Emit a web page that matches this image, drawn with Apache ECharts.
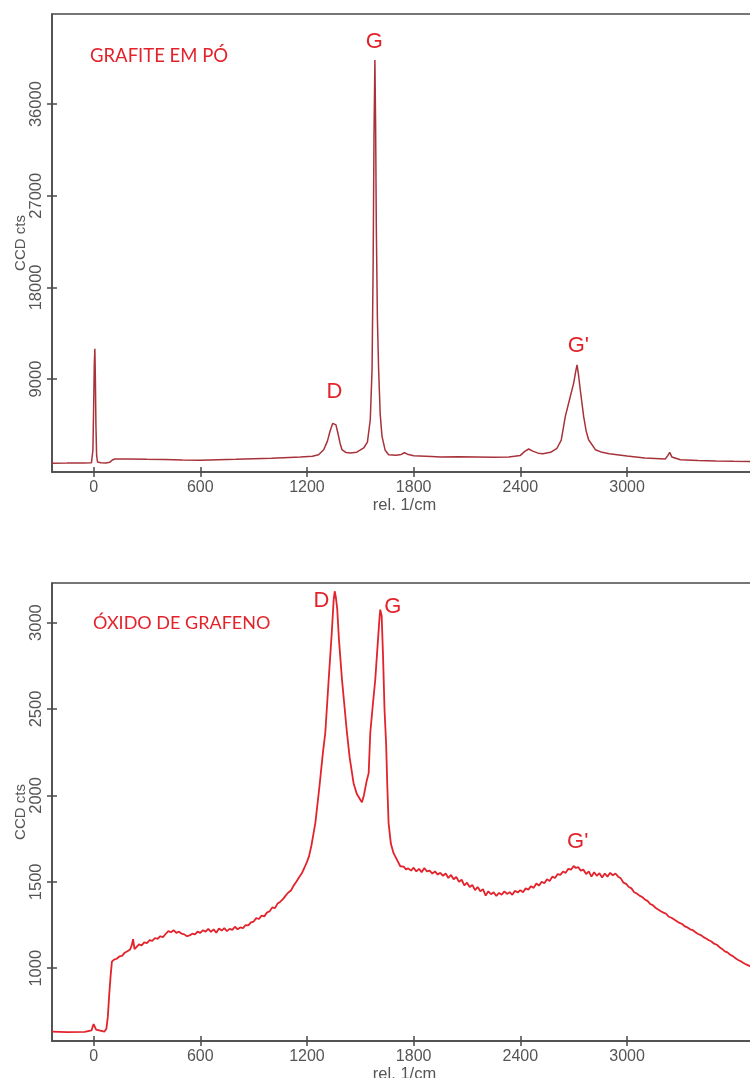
<!DOCTYPE html>
<html><head><meta charset="utf-8">
<script src="https://cdn.jsdelivr.net/npm/echarts@6/dist/echarts.min.js"></script>
<style>html,body{margin:0;padding:0;background:#fff}#c{width:750px;height:1078px}</style>
</head><body><div id="c"></div>
<script>
// Tick labels
const xTicks = [0, 600, 1200, 1800, 2400, 3000];
const grafiteYTicks = [9000, 18000, 27000, 36000];
const oxidoYTicks = [1000, 1500, 2000, 2500, 3000];

// Grafite em pó spectrum [rel. 1/cm, CCD cts]
const grafite = [
  [-234,740],[-150,750],[-60,765],[-12,790],[-4,2000],[0,6000],[4,10500],[7,11970],[10,9000],[13,4500],[17,1500],[22,850],
  [40,770],[70,760],[90,820],[105,1050],[120,1150],[200,1150],[300,1120],[400,1100],[500,1060],[600,1030],[700,1070],
  [800,1110],[900,1170],[1000,1230],[1100,1300],[1163,1345],[1230,1420],[1265,1560],[1294,2060],[1315,2900],[1330,3900],
  [1345,4650],[1354,4840],[1363,4500],[1375,3600],[1386,2700],[1397,2060],[1420,1780],[1444,1740],[1480,1820],[1519,2230],
  [1540,2800],[1556,5000],[1566,9900],[1572,20000],[1577,33000],[1582,40340],[1586,34000],[1590,24000],[1596,15000],
  [1603,9900],[1612,5500],[1622,3370],[1640,2000],[1659,1570],[1700,1520],[1730,1600],[1748,1760],[1765,1620],[1800,1470],
  [1900,1400],[1950,1345],[2050,1370],[2150,1350],[2250,1330],[2335,1350],[2400,1500],[2425,1900],[2447,2130],[2470,1920],
  [2500,1720],[2527,1670],[2570,1800],[2606,2200],[2630,3000],[2653,5330],[2681,7290],[2700,8600],[2712,9800],[2719,10400],
  [2728,9300],[2737,7950],[2756,5330],[2770,3900],[2784,3040],[2822,2060],[2860,1800],[2900,1670],[3000,1450],[3100,1250],
  [3215,1150],[3230,1500],[3240,1800],[3252,1350],[3300,1080],[3400,1000],[3500,960],[3600,930],[3731,900]
];

// Óxido de grafeno spectrum [rel. 1/cm, CCD cts]
const oxido = [
  [-234,633],[-150,630],[-50,632],[-12,640],[-4,665],[0,677],[6,668],[14,645],[25,635],[60,633],[72,650],[80,720],[88,850],
  [96,960],[103,1038],[115,1050],[130,1055],[145,1068],[160,1072],[175,1090],[190,1098],[205,1108],[215,1135],[222,1168],
  [230,1110],[240,1118],[255,1138],[270,1132],[285,1150],[300,1146],[315,1162],[330,1158],[345,1175],[360,1170],[375,1185],
  [390,1180],[405,1198],[420,1215],[435,1208],[450,1220],[465,1205],[480,1212],[495,1200],[510,1196],[525,1185],[540,1190],
  [555,1200],[570,1196],[585,1212],[600,1205],[615,1220],[630,1212],[645,1228],[660,1210],[675,1225],[690,1205],[705,1230],
  [720,1218],[735,1232],[750,1215],[765,1228],[780,1222],[795,1240],[810,1225],[825,1236],[840,1232],[855,1250],[870,1248],
  [885,1265],[900,1270],[915,1290],[930,1285],[945,1305],[960,1300],[975,1322],[990,1330],[1005,1352],[1020,1348],[1035,1375],
  [1050,1385],[1065,1400],[1080,1420],[1095,1438],[1110,1450],[1125,1478],[1140,1500],[1155,1525],[1170,1548],[1185,1580],
  [1200,1615],[1212,1650],[1225,1710],[1237,1780],[1247,1840],[1270,2050],[1290,2250],[1303,2361],[1322,2669],[1340,2950],
  [1350,3130],[1356,3181],[1362,3150],[1370,3080],[1380,2900],[1397,2669],[1425,2361],[1440,2220],[1462,2071],[1480,2010],
  [1500,1975],[1509,1960],[1520,2000],[1535,2080],[1547,2129],[1556,2361],[1570,2520],[1584,2669],[1598,2880],[1606,3000],
  [1612,3075],[1620,3040],[1628,2800],[1636,2500],[1645,2300],[1652,2050],[1659,1840],[1672,1720],[1687,1666],[1710,1620],
  [1725,1590],[1744,1588],[1757,1572],[1770,1578],[1785,1565],[1800,1582],[1815,1560],[1830,1575],[1845,1556],[1860,1580],
  [1875,1560],[1890,1565],[1905,1548],[1920,1560],[1935,1542],[1950,1552],[1965,1535],[1980,1548],[1995,1522],[2010,1540],
  [2025,1515],[2040,1528],[2055,1500],[2070,1512],[2085,1480],[2100,1495],[2115,1470],[2130,1482],[2145,1452],[2160,1470],
  [2175,1445],[2190,1458],[2205,1420],[2220,1445],[2235,1428],[2250,1440],[2265,1418],[2280,1436],[2295,1425],[2310,1445],
  [2325,1430],[2340,1440],[2355,1425],[2370,1448],[2385,1438],[2400,1452],[2415,1440],[2430,1462],[2445,1455],[2460,1475],
  [2475,1465],[2490,1490],[2505,1478],[2520,1500],[2535,1492],[2550,1515],[2565,1505],[2580,1530],[2595,1522],[2610,1545],
  [2625,1540],[2640,1560],[2655,1552],[2670,1575],[2685,1570],[2700,1592],[2712,1580],[2725,1585],[2740,1565],[2755,1570],
  [2770,1545],[2785,1560],[2800,1530],[2815,1555],[2830,1535],[2845,1550],[2860,1525],[2875,1548],[2890,1530],[2905,1552],
  [2920,1538],[2935,1548],[2950,1530],[2965,1520],[2980,1495],[2995,1488],[3010,1470],[3025,1462],[3040,1440],[3055,1432],
  [3070,1420],[3085,1412],[3100,1398],[3115,1390],[3130,1372],[3145,1365],[3160,1350],[3175,1340],[3190,1330],[3205,1322],
  [3220,1315],[3235,1298],[3250,1292],[3265,1282],[3280,1272],[3295,1262],[3310,1256],[3325,1242],[3340,1236],[3355,1225],
  [3370,1220],[3385,1208],[3400,1198],[3415,1192],[3430,1180],[3445,1172],[3460,1162],[3475,1155],[3490,1142],[3505,1136],
  [3520,1122],[3535,1112],[3550,1098],[3565,1092],[3580,1078],[3595,1070],[3610,1058],[3625,1048],[3640,1040],[3655,1030],
  [3670,1022],[3685,1015],[3700,1008],[3715,1002],[3731,995]
];

// Peak annotations [x, y, text]
const grafitePeaks = [[1579,42060,'G'],[1354,7750,'D'],[2726,12220,"G'"]];
const oxidoPeaks = [[1281,3127,'D'],[1683,3089,'G'],[2723,1728,"G'"]];

const titles = ['GRAFITE EM PÓ', 'ÓXIDO DE GRAFENO'];
const xName = 'rel. 1/cm';
const yName = 'CCD cts';

const axisColor = '#4a4a4a';
const labelColor = '#555';
const red = '#e3232b';
const plain = v => String(v);

function xAx(gi, inner) {
  return {
    type: 'value', gridIndex: gi, position: 'bottom', min: -234, max: 3731,
    axisLine: { show: !inner, onZero: false, lineStyle: { color: axisColor, width: 1.5 } },
    axisTick: { show: true, inside: inner, length: 5, customValues: xTicks, lineStyle: { color: axisColor, width: 1.5 } },
    axisLabel: { show: !inner, customValues: xTicks, formatter: plain, margin: 8, color: labelColor, fontFamily: 'Liberation Sans', fontSize: 16 },
    splitLine: { show: false },
    name: inner ? '' : xName, nameLocation: 'middle', nameGap: 25,
    nameTextStyle: { color: labelColor, fontFamily: 'Liberation Sans', fontSize: 16.5 }
  };
}
function yAx(gi, inner, min, max, ticks) {
  return {
    type: 'value', gridIndex: gi, position: 'left', min: min, max: max,
    axisLine: { show: !inner, onZero: false, lineStyle: { color: axisColor, width: 1.5 } },
    axisTick: { show: true, inside: inner, length: 5, customValues: ticks, lineStyle: { color: axisColor, width: 1.5 } },
    axisLabel: { show: !inner, customValues: ticks, formatter: plain, rotate: 90, margin: 7, color: labelColor, fontFamily: 'Liberation Sans', fontSize: 16.5 },
    splitLine: { show: false },
    name: inner ? '' : yName, nameLocation: 'middle', nameGap: 24, nameRotate: 90, nameMoveOverlap: false,
    nameTextStyle: { color: labelColor, fontFamily: 'Liberation Sans', fontSize: 15 }
  };
}
function peakSeries(data, xi, yi) {
  return {
    type: 'scatter', xAxisIndex: xi, yAxisIndex: yi, data: data, symbolSize: 1,
    itemStyle: { color: 'rgba(0,0,0,0)' }, silent: true,
    label: { show: true, position: 'inside', formatter: p => p.data[2], color: red, textBorderWidth: 0, opacity: 1, fontFamily: 'Liberation Sans', fontSize: 22 }
  };
}

const chart = echarts.init(document.getElementById('c'), null, { renderer: 'canvas' });
chart.setOption({
  animation: false,
  backgroundColor: '#fff',
  title: [
    { text: titles[0], left: 90, top: 47, padding: 0, textStyle: { color: red, fontFamily: 'Lato', fontSize: 18.5, fontWeight: 'normal' } },
    { text: titles[1], left: 93, top: 614, padding: 0, textStyle: { color: red, fontFamily: 'Lato', fontSize: 18, fontWeight: 'normal' } }
  ],
  grid: [
    { left: 52, top: 14, right: -7, bottom: 606, outerBoundsMode: 'none', show: true, borderColor: axisColor, borderWidth: 1.5, backgroundColor: 'transparent' },
    { left: 52, top: 583, right: -7, bottom: 37, outerBoundsMode: 'none', show: true, borderColor: axisColor, borderWidth: 1.5, backgroundColor: 'transparent' }
  ],
  xAxis: [xAx(0, false), xAx(0, true), xAx(1, false), xAx(1, true)],
  yAxis: [
    yAx(0, false, -130, 44850, grafiteYTicks), yAx(0, true, -130, 44850, grafiteYTicks),
    yAx(1, false, 579, 3229, oxidoYTicks), yAx(1, true, 579, 3229, oxidoYTicks)
  ],
  series: [
    { type: 'line', xAxisIndex: 0, yAxisIndex: 0, data: grafite, showSymbol: false, lineStyle: { color: '#a8323a', width: 1.5 } },
    { type: 'line', xAxisIndex: 2, yAxisIndex: 2, data: oxido, showSymbol: false, lineStyle: { color: red, width: 1.8 } },
    peakSeries(grafitePeaks, 0, 0),
    peakSeries(oxidoPeaks, 2, 2)
  ]
});
</script></body></html>
